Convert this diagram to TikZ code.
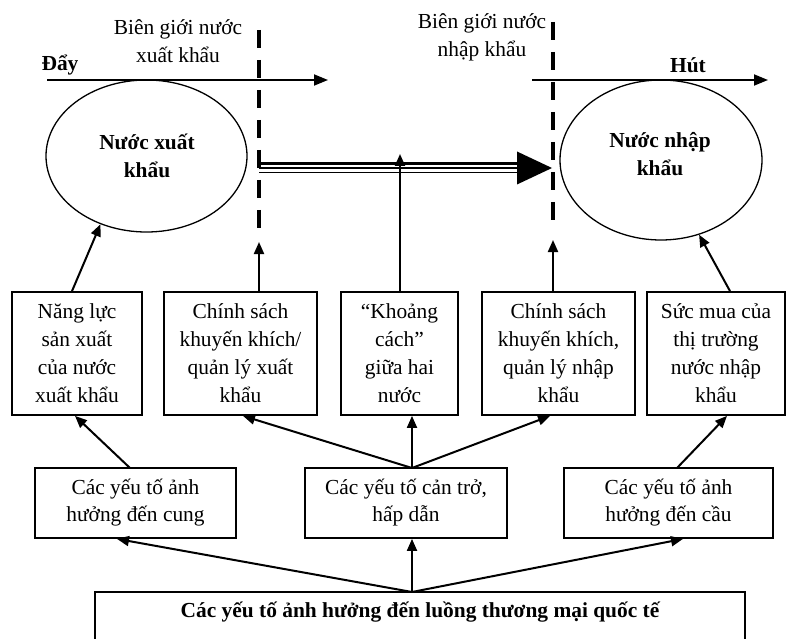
\documentclass[tikz,border=0pt]{standalone}
\usepackage{fontspec}
\setmainfont{Liberation Serif}
\usetikzlibrary{arrows.meta,shapes.geometric,calc}
\begin{document}
\begin{tikzpicture}[x=1pt,y=-1pt,
  txt/.style={font={\fontsize{21.4}{28}\selectfont},align=center,inner sep=0pt},
  btxt/.style={txt,font={\fontsize{21.4}{28}\selectfont\bfseries}},
  boxA/.style={draw,line width=1.8pt,inner sep=0pt,font={\fontsize{21.4}{28}\selectfont},align=center},
  boxB/.style={draw,line width=1.8pt,inner sep=0pt,font={\fontsize{21.4}{27}\selectfont},align=center,minimum height=70pt},
  arr/.style={line width=2pt,-{Triangle[length=12pt,width=10pt]}},
  harr/.style={line width=1.8pt,-{Triangle[length=14pt,width=11pt]}},
  border/.style={line width=4pt,dash pattern=on 18pt off 12pt},
  ell/.style={draw,ellipse,line width=1.3pt,inner sep=0pt}
]
\clip (0,0) rectangle (787,639);
% border texts
\node[txt] (bgx) at (178,41) {Biên giới nước\\xuất khẩu};
\node[txt] (bgn) at (482,37) {Biên giới nước\\nhập khẩu};
% dashed borders
\coordinate (dLt) at (259,30); \coordinate (dLb) at (259,232);
\coordinate (dRt) at (553,22); \coordinate (dRb) at (553,226);
\draw[border] (dLt) -- (dLb);
\draw[border] (dRt) -- (dRb);
% push / pull
\node[btxt] (day) at (60,65) {Đẩy};
\node[btxt] (hut) at (688,65) {Hút};
\coordinate (pS) at (47,80); \coordinate (pE) at (328,80);
\coordinate (hS) at (532,80); \coordinate (hE) at (768,80);
\draw[harr] (pS) -- (pE);
\draw[harr] (hS) -- (hE);
% ellipses
\node[ell,minimum width=201pt,minimum height=152pt] (eL) at (146.5,156) {};
\node[ell,minimum width=202pt,minimum height=160pt] (eR) at (661,160) {};
\node[btxt] (eLt) at (147,156) {Nước xuất\\khẩu};
\node[btxt] (eRt) at (660,154) {Nước nhập\\khẩu};
% triple flow arrow
\coordinate (fS) at (259,168); \coordinate (fE) at (519,168);
\coordinate (fT) at (552,168);
\draw[line width=2.5pt] ($(fS)+(0,-4.5)$) -- ($(fE)+(0,-4.5)$);
\draw[line width=1.7pt] (fS) -- (fE);
\draw[line width=1.7pt] ($(fS)+(0,4.5)$) -- ($(fE)+(0,4.5)$);
\fill ($(fE)+(-2,-16.5)$) -- (fT) -- ($(fE)+(-2,16.5)$) -- cycle;
% row 1 boxes
\node[boxA,minimum width=130pt,minimum height=123pt] (b1) at (77,353.5) {Năng lực\\sản xuất\\của nước\\xuất khẩu};
\node[boxA,minimum width=153pt,minimum height=123pt] (b2) at (240.5,353.5) {Chính sách\\khuyến khích/\\quản lý xuất\\khẩu};
\node[boxA,minimum width=117pt,minimum height=123pt] (b3) at (399.5,353.5) {“Khoảng\\cách”\\giữa hai\\nước};
\node[boxA,minimum width=153pt,minimum height=123pt] (b4) at (558.5,353.5) {Chính sách\\khuyến khích,\\quản lý nhập\\khẩu};
\node[boxA,minimum width=138pt,minimum height=123pt] (b5) at (716,353.5) {Sức mua của\\thị trường\\nước nhập\\khẩu};
% row 2 boxes
\node[boxB,minimum width=201pt] (cA) at (135.5,503) {Các yếu tố ảnh\\hưởng đến cung};
\node[boxB,minimum width=202pt] (cB) at (406,503) {Các yếu tố cản trở,\\hấp dẫn};
\node[boxB,minimum width=209pt] (cC) at (668.5,503) {Các yếu tố ảnh\\hưởng đến cầu};
% bottom box
\coordinate (bbl) at (95,592); \coordinate (bbr) at (745,660);
\draw[line width=1.8pt] (bbl) rectangle (bbr);
\node[btxt] (bottom) at (420,612) {Các yếu tố ảnh hưởng đến luồng thương mại quốc tế};
% arrows row 1 -> top
\coordinate (kT) at (400,154);
\draw[arr] ([xshift=-5pt]b1.north) -- (eL.236);
\draw[arr] (b2.north -| dLb) -- ($(dLb)+(0,10)$);
\draw[arr] (b3.north -| kT) -- (kT);
\draw[arr] (b4.north -| dRb) -- ($(dRb)+(0,14)$);
\draw[arr] ([xshift=14pt]b5.north) -- (eR.297);
% arrows row 2 -> row 1
\coordinate (cAt) at (130,468);
\coordinate (cBt) at (412,468);
\coordinate (cCt) at (677,468);
\draw[arr] (cAt) -- ([xshift=-2pt]b1.south);
\draw[arr] (cBt) -- ([xshift=2.5pt]b2.south);
\draw[arr] (cBt) -- (b3.south -| cBt);
\draw[arr] (cBt) -- ([xshift=-8.5pt]b4.south);
\draw[arr] (cCt) -- ([xshift=11pt]b5.south);
% arrows bottom -> row 2
\coordinate (bt) at (412,592);
\draw[arr] (bt) -- ([xshift=-18.5pt]cA.south);
\draw[arr] (bt) -- (cB.south -| bt);
\draw[arr] (bt) -- ([xshift=14.5pt]cC.south);
\end{tikzpicture}
\end{document}
